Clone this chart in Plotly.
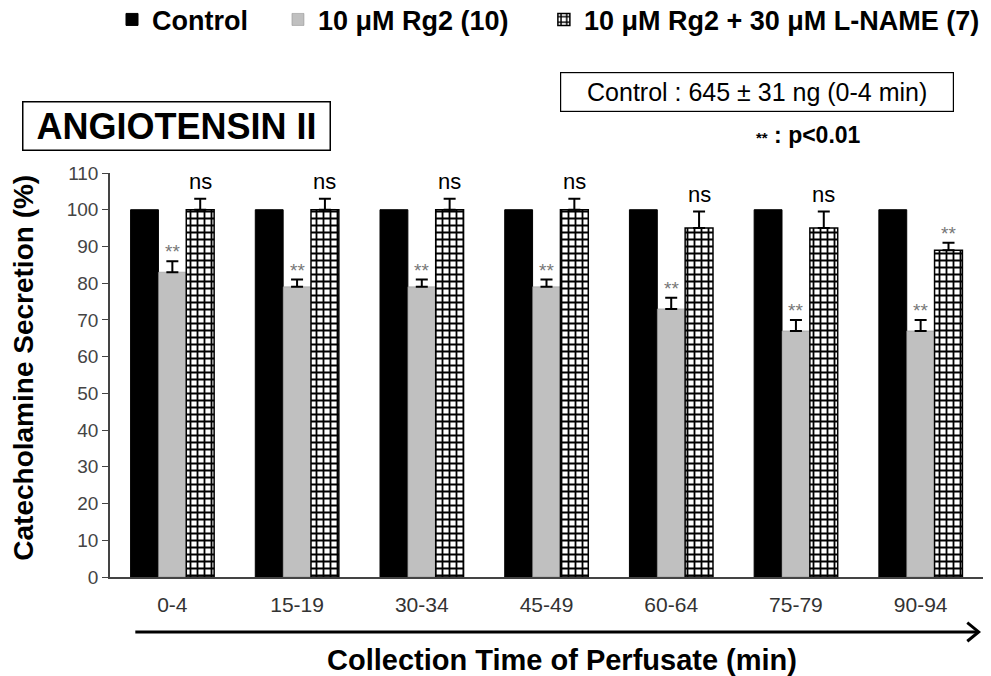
import plotly.graph_objects as go

categories = ["0-4", "15-19", "30-34", "45-49", "60-64", "75-79", "90-94"]
control = [100, 100, 100, 100, 100, 100, 100]
rg2 = [83, 79, 79, 79, 73, 67, 67]
rg2_err = [3, 2, 2, 2, 3, 3, 3]
lname = [100, 100, 100, 100, 95, 95, 89]
lname_err = [3, 3, 3, 3, 4.5, 4.5, 2]
rg2_sig = ["**"] * 7
lname_sig = ["ns", "ns", "ns", "ns", "ns", "ns", "**"]
y_ticks = list(range(0, 111, 10))

BARGAP = 0.33
bw = (1 - BARGAP) / 3
FONT = "Liberation Sans, Arial"

fig = go.Figure()
fig.add_trace(go.Bar(
    x=categories, y=control, name="<b>Control</b>", legend="legend",
    marker=dict(color="black", line=dict(color="black", width=1)),
))
fig.add_trace(go.Bar(
    x=categories, y=rg2, name="<b>10 μM Rg2 (10)</b>", legend="legend2",
    marker=dict(color="#c0c0c0", line=dict(color="#888", width=0.5)),
    error_y=dict(type="data", array=rg2_err, arrayminus=[0] * 7, symmetric=False,
                 color="black", thickness=2, width=6),
))
fig.add_trace(go.Bar(
    x=categories, y=lname, name="<b>10 μM Rg2 + 30 μM L-NAME (7)</b>", legend="legend3",
    marker=dict(color="white", line=dict(color="black", width=1.5),
                pattern=dict(shape="+", fgcolor="black", bgcolor="white",
                             size=7, solidity=0.45, fillmode="replace")),
    error_y=dict(type="data", array=lname_err, arrayminus=[0] * 7, symmetric=False,
                 color="black", thickness=2, width=6),
))

ann = []
for i, c in enumerate(categories):
    ann.append(dict(x=i, y=rg2[i] + rg2_err[i], xref="x", yref="y", text=rg2_sig[i],
                    showarrow=False, xanchor="center", yanchor="bottom", yshift=-3,
                    font=dict(size=19, color="#777", family=FONT)))
    big = lname_sig[i] == "ns"
    ann.append(dict(x=i + bw, y=lname[i] + lname_err[i], xref="x", yref="y", text=lname_sig[i],
                    showarrow=False, xanchor="center", yanchor="bottom", yshift=3 if big else -3,
                    font=dict(size=22 if big else 19, color="black" if big else "#777",
                              family=FONT)))

ann.append(dict(x=0.0767, y=1.116, xref="paper", yref="paper", xanchor="center", yanchor="middle",
                text="&nbsp;<b>ANGIOTENSIN II</b>&nbsp;", showarrow=False,
                font=dict(size=36, color="black", family=FONT),
                bordercolor="black", borderwidth=1.5, borderpad=3, bgcolor="white"))
ann.append(dict(x=0.741, y=1.2005, xref="paper", yref="paper", xanchor="center", yanchor="middle",
                text="&nbsp;&nbsp;&nbsp;Control : 645 ± 31 ng (0-4 min)&nbsp;&nbsp;&nbsp;", showarrow=False,
                font=dict(size=25, color="black", family=FONT),
                bordercolor="black", borderwidth=1.2, borderpad=5, bgcolor="white"))
ann.append(dict(x=0.80, y=1.094, xref="paper", yref="paper", xanchor="center", yanchor="middle",
                text="<b><span style='font-size:15px'>**</span> : p&lt;0.01</b>", showarrow=False,
                font=dict(size=23, color="black", family=FONT)))
ann.append(dict(x=-0.099, y=0.517, xref="paper", yref="paper", textangle=-90,
                xanchor="center", yanchor="middle",
                text="<b>Catecholamine Secretion (%)</b>", showarrow=False,
                font=dict(size=28, color="black", family=FONT)))
ann.append(dict(x=0.518, y=-0.205, xref="paper", yref="paper", xanchor="center", yanchor="middle",
                text="<b>Collection Time of Perfusate (min)</b>", showarrow=False,
                font=dict(size=29, color="black", family=FONT)))

shapes = [
    dict(type="line", xref="paper", yref="paper", x0=0.029, x1=0.994, y0=-0.136, y1=-0.136,
         line=dict(color="black", width=3)),
    dict(type="path", xref="paper", yref="paper",
         path="M 0.982,-0.113 L 0.995,-0.136 L 0.982,-0.159",
         line=dict(color="black", width=3)),
]

leg_common = dict(orientation="h", y=1.379, xanchor="left", yanchor="middle",
                  font=dict(size=27, color="black", family=FONT),
                  itemwidth=30, bgcolor="rgba(0,0,0,0)")

fig.update_layout(
    width=991, height=676,
    margin=dict(l=110, r=8, t=173, b=99, autoexpand=False),
    paper_bgcolor="white", plot_bgcolor="white",
    barmode="group", bargap=BARGAP, bargroupgap=0,
    showlegend=True,
    legend=dict(leg_common, x=0.0023),
    legend2=dict(leg_common, x=0.1924),
    legend3=dict(leg_common, x=0.497),
    annotations=ann, shapes=shapes,
    xaxis=dict(type="category", showline=True, linecolor="#444", linewidth=1.5,
               ticks="", showgrid=False, ticklabelstandoff=8,
               tickfont=dict(size=21, color="#333", family="Liberation Sans Narrow, Liberation Sans")),
    yaxis=dict(range=[0, 110], tickvals=y_ticks, showline=True, linecolor="#444", linewidth=1.5,
               ticks="outside", ticklen=6, tickcolor="#444", showgrid=False, zeroline=False,
               tickfont=dict(size=19, color="#444", family="Liberation Sans Narrow, Liberation Sans")),
)

fig.write_html("out.html")
